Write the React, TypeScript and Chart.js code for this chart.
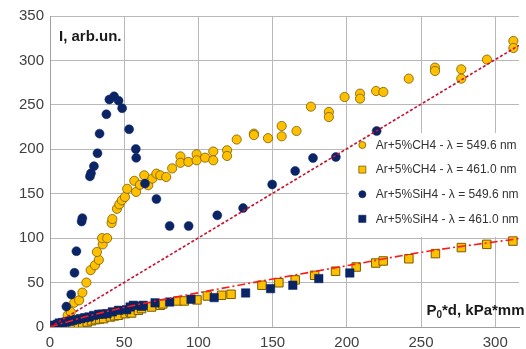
import { useEffect, useRef } from 'react';
import { Chart, registerables } from 'chart.js';

Chart.register(...registerables);

// ---- data ----
const ch4_549: [number, number][] = [
  [11.9, 13.2], [14, 17], [16.3, 27.4], [19.6, 30], [21.8, 38.7], [24.5, 50], [27.4, 64], [30.3, 69.5],
  [32.9, 75.5], [31.6, 84.4], [35.5, 93], [35.1, 100], [38.5, 100], [41.5, 117], [42, 121.5], [45.1, 133],
  [46.7, 138], [48.4, 142.6], [50.5, 146.3], [52, 155.5], [56.8, 164.5], [58, 152], [60.6, 160], [63.5, 170.7],
  [66.2, 159.5], [69, 167], [71.7, 172.6], [74.3, 170.7], [78.3, 168.8], [82.3, 178.5], [87.9, 192], [87.9, 184.8],
  [93.2, 185.8], [98.8, 194.4], [98.8, 187.6], [104.5, 190.6], [110, 197.5], [110, 187.6], [119.3, 198.9],
  [119.3, 192.5], [125.8, 211], [137.4, 217.6], [137.4, 216], [146.9, 212.5], [156.1, 226.2], [156.1, 214.6],
  [166.1, 220.6], [175.8, 248], [187.9, 242], [187.9, 236.3], [198.5, 258.8], [208.9, 262.6], [208.9, 257],
  [219.7, 265.6], [224.6, 264.5], [241.7, 279.5], [259.4, 291.9], [259.4, 288.1], [277.1, 290], [277.1, 279.5],
  [294.4, 300.9], [312.2, 321.9], [312.2, 314],
];

const ch4_461: [number, number][] = [
  [3, 0.5], [6, 1], [9.6, 1.5], [12, 2], [15.2, 2.5], [19.2, 3.8], [22, 4.5], [25.1, 5.6], [28, 7], [30.7, 8.3],
  [33.5, 9], [36.2, 9.4], [40.7, 11.3], [43.5, 12.5], [46.2, 13.2], [50.7, 15], [54, 16.9], [55, 15.8],
  [59.5, 18.8], [61.7, 20.7], [68.4, 22.5], [74.3, 24.4], [76, 26], [86.1, 29.3], [90.5, 29.3], [99, 30.5],
  [106, 34.9], [115.6, 35.7], [122, 36.8], [142.8, 47], [154.2, 49.8], [165.2, 53], [178.3, 58.2], [192.4, 62.8],
  [206.3, 67.5], [219.5, 72], [224.5, 74.3], [241.8, 76.8], [259.7, 82.6], [277.2, 89.4], [294.3, 93], [311.9, 96.7],
];

const sih4_549: [number, number][] = [
  [11, 23], [14.3, 36.6], [16.5, 61], [17.8, 85.3], [21.3, 118.7], [21.8, 122.5], [26.9, 169.5], [27.6, 173],
  [29.6, 181], [32, 195.5], [33.4, 217.6], [38, 239.4], [40, 256], [43.2, 259.6], [46.2, 254.7], [48.6, 246.2],
  [53.3, 222.5], [57.8, 200.3], [58.1, 190.4], [64, 161.4], [71.7, 144], [80.6, 113.7], [93.4, 113.7],
  [112.7, 125.7], [130.1, 133.8], [149.7, 160.4], [165.2, 175.6], [177.2, 190.2], [192.6, 191.3], [220.1, 220.6],
];

const sih4_461: [number, number][] = [
  [3, 2], [5, 3], [6.3, 4.5], [8.5, 5], [10.8, 5.6], [13, 6.5], [15.2, 7.5], [18, 8.5], [20.7, 9.4], [23.5, 10.5],
  [26.3, 11.3], [29.5, 13], [32.9, 14.3], [35.5, 14.5], [38.4, 15], [42, 17], [46.2, 18.8], [51.7, 19.5],
  [54, 22.5], [56.2, 24.4], [61.7, 23.3], [62.8, 24.4], [70.8, 27.2], [80.6, 28.1], [95, 31.2], [110.6, 33.1],
  [131.8, 38.3], [148.6, 43.2], [163.6, 47], [181.1, 54.5], [202, 60.8],
];

// trend lines
const trend549: [number, number][] = [[0, 0], [316, 317]];
const trend461: [number, number][] = [
  [0, 0], [10, 5], [25, 12], [50, 22], [100, 38.5], [150, 54], [200, 69], [250, 84], [316, 99.5],
];

const seriesLabels = [
  'Ar+5%CH4 - λ = 549.6 nm',
  'Ar+5%CH4 - λ = 461.0 nm',
  'Ar+5%SiH4 - λ = 549.6 nm',
  'Ar+5%SiH4 - λ = 461.0 nm',
];

const X_MIN = 0, X_MAX = 316, X_STEP = 50;
const Y_MIN = 0, Y_MAX = 350, Y_STEP = 50;
const yTitle = 'I, arb.un.';
const xTitleParts = ['P', '0', '*d, kPa*mm'];

const GOLD = '#ffc000';
const GOLD_EDGE = '#7a5c00';
const NAVY = '#0b2466';
const FONT = '"Liberation Sans", Arial, Helvetica, sans-serif';

const toPts = (a: [number, number][]) => a.map(([x, y]) => ({ x, y }));

const overlayPlugin = {
  id: 'overlay',
  beforeDatasetsDraw(chart: any) {
    const { ctx, chartArea } = chart;
    const xs = chart.scales.x;
    const left = xs.getPixelForValue(200) + 2;
    const top = chartArea.top + 117;
    ctx.save();
    ctx.fillStyle = '#ffffff';
    ctx.fillRect(left, top, chartArea.right - left, 104);
    const items = [
      { style: 'circle', fill: GOLD, edge: GOLD_EDGE },
      { style: 'rect', fill: GOLD, edge: GOLD_EDGE },
      { style: 'circle', fill: NAVY, edge: NAVY },
      { style: 'rect', fill: NAVY, edge: NAVY },
    ];
    const mx = left + 13.5;
    const tx = left + 27;
    items.forEach((it, i) => {
      const y = top + 12 + i * 24.6;
      ctx.fillStyle = it.fill;
      ctx.strokeStyle = it.edge;
      ctx.lineWidth = 0.8;
      ctx.beginPath();
      if (it.style === 'circle') ctx.arc(mx, y, 3.5, 0, Math.PI * 2);
      else ctx.rect(mx - 3.5, y - 3.5, 7, 7);
      ctx.fill();
      ctx.stroke();
      ctx.fillStyle = '#333333';
      ctx.font = `12px ${FONT}`;
      ctx.textBaseline = 'middle';
      ctx.textAlign = 'left';
      ctx.fillText(seriesLabels[i], tx, y + 0.5);
    });
    ctx.restore();
  },
  afterDraw(chart: any) {
    const { ctx, chartArea } = chart;
    ctx.save();
    ctx.fillStyle = '#1a1a1a';
    ctx.textBaseline = 'alphabetic';
    ctx.textAlign = 'left';
    ctx.font = `bold 15px ${FONT}`;
    ctx.fillText(yTitle, chartArea.left + 9, chartArea.top + 25);
    // x title with subscript, right aligned at the canvas edge
    const big = `bold 15px ${FONT}`;
    const small = `bold 10px ${FONT}`;
    const right = chart.width - 1.5;
    const base = chartArea.bottom - 12;
    ctx.textAlign = 'right';
    ctx.font = big;
    ctx.fillText(xTitleParts[2], right, base);
    const w3 = ctx.measureText(xTitleParts[2]).width;
    ctx.font = small;
    ctx.fillText(xTitleParts[1], right - w3, base + 3);
    const w2 = ctx.measureText(xTitleParts[1]).width;
    ctx.font = big;
    ctx.fillText(xTitleParts[0], right - w3 - w2, base);
    ctx.restore();
  },
};

export default function App() {
  const ref = useRef<HTMLCanvasElement>(null);
  useEffect(() => {
    if (!ref.current) return;
    const chart = new Chart(ref.current, {
      type: 'scatter',
      data: {
        datasets: [
          {
            label: 'trend 549.6',
            data: toPts(trend549),
            showLine: true,
            borderColor: '#c8102e',
            borderWidth: 1.6,
            borderDash: [3, 2],
            pointRadius: 0,
            order: 0,
          },
          {
            label: 'trend 461.0',
            data: toPts(trend461),
            showLine: true,
            borderColor: '#ff1a1a',
            borderWidth: 1.6,
            borderDash: [8, 3, 2, 3],
            cubicInterpolationMode: 'monotone',
            pointRadius: 0,
            order: 0,
          },
          {
            label: seriesLabels[0],
            data: toPts(ch4_549),
            pointStyle: 'circle',
            pointRadius: 4.6,
            backgroundColor: GOLD,
            borderColor: GOLD_EDGE,
            borderWidth: 0.8,
            order: 4,
          },
          {
            label: seriesLabels[1],
            data: toPts(ch4_461),
            pointStyle: 'rect',
            pointRadius: 6,
            backgroundColor: GOLD,
            borderColor: GOLD_EDGE,
            borderWidth: 1,
            order: 3,
          },
          {
            label: seriesLabels[2],
            data: toPts(sih4_549),
            pointStyle: 'circle',
            pointRadius: 4.5,
            backgroundColor: NAVY,
            borderColor: NAVY,
            borderWidth: 0.5,
            order: 2,
          },
          {
            label: seriesLabels[3],
            data: toPts(sih4_461),
            pointStyle: 'rect',
            pointRadius: 6,
            backgroundColor: NAVY,
            borderColor: NAVY,
            borderWidth: 0.5,
            order: 1,
          },
        ],
      },
      options: {
        animation: false,
        responsive: false,
        devicePixelRatio: 1,
        layout: { padding: { top: 16, right: 0, left: 0, bottom: 0 } },
        plugins: { legend: { display: false }, tooltip: { enabled: false } },
        scales: {
          x: {
            type: 'linear',
            min: X_MIN,
            max: X_MAX,
            afterFit: (s: any) => { s.height = 22; },
            ticks: {
              stepSize: X_STEP,
              includeBounds: false,
              color: '#404040',
              font: { family: FONT, size: 15 },
              padding: 7,
              maxRotation: 0,
            },
            grid: { color: '#b8b8b8', lineWidth: 1, drawTicks: false },
            border: { color: '#a0a0a0', width: 1 },
          },
          y: {
            type: 'linear',
            min: Y_MIN,
            max: Y_MAX,
            afterFit: (s: any) => { s.width = 50; },
            ticks: {
              stepSize: Y_STEP,
              color: '#404040',
              font: { family: FONT, size: 15 },
              padding: 6,
            },
            grid: { color: '#b8b8b8', lineWidth: 1, drawTicks: false },
            border: { color: '#a0a0a0', width: 1 },
          },
        },
      },
      plugins: [overlayPlugin],
    } as any);
    return () => chart.destroy();
  }, []);
  return (
    <div style={{ position: 'fixed', left: 0, top: 0, width: 526, height: 349, background: '#fff' }}>
      <canvas ref={ref} width={526} height={349} style={{ width: 526, height: 349, display: 'block' }} />
    </div>
  );
}
